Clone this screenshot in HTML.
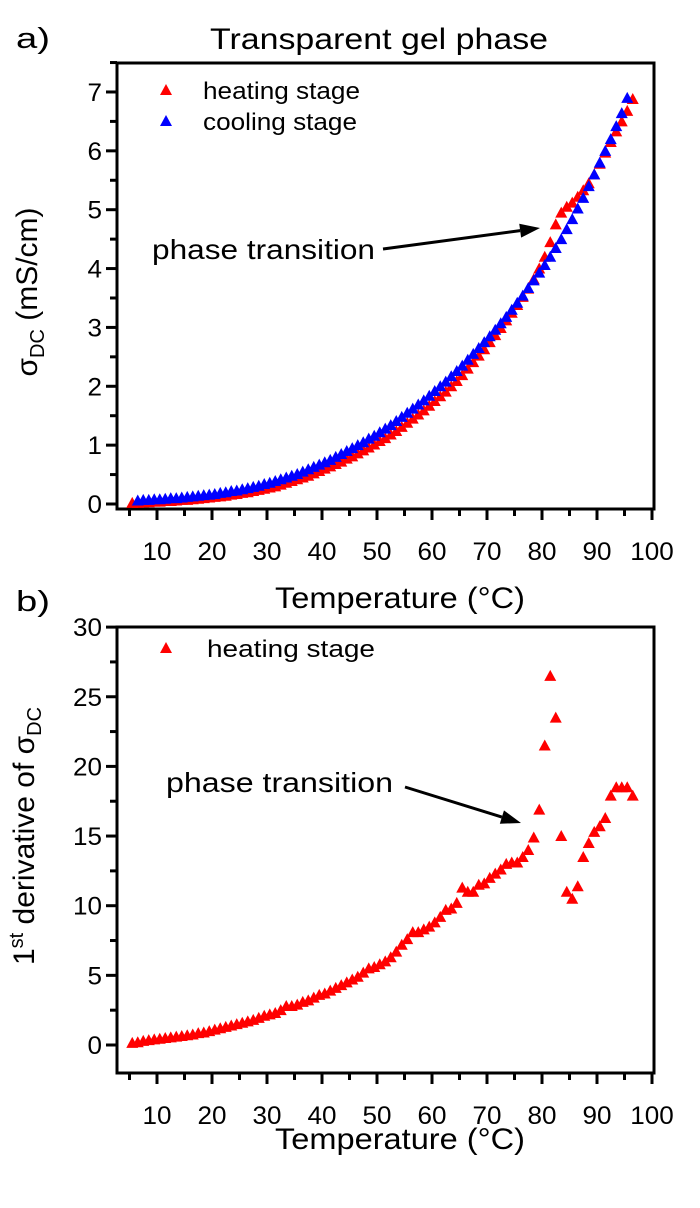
<!DOCTYPE html>
<html><head><meta charset="utf-8"><style>
body{margin:0;background:#fff;}
svg{display:block;font-family:"Liberation Sans",Arial,sans-serif;}
</style></head><body>
<svg id="fig" width="700" height="1208" viewBox="0 0 700 1208" xmlns="http://www.w3.org/2000/svg">
<g id="A"></g>
<g id="B"></g>
</svg>
<script>
const xTicks = [10,20,30,40,50,60,70,80,90,100];
const yTicksA = [0,1,2,3,4,5,6,7];
const yTicksB = [0,5,10,15,20,25,30];
const tempsHeat = [5.5,6.5,7.5,8.5,9.5,10.5,11.5,12.5,13.5,14.5,15.5,16.5,17.5,18.5,19.5,20.5,21.5,22.5,23.5,24.5,25.5,26.5,27.5,28.5,29.5,30.5,31.5,32.5,33.5,34.5,35.5,36.5,37.5,38.5,39.5,40.5,41.5,42.5,43.5,44.5,45.5,46.5,47.5,48.5,49.5,50.5,51.5,52.5,53.5,54.5,55.5,56.5,57.5,58.5,59.5,60.5,61.5,62.5,63.5,64.5,65.5,66.5,67.5,68.5,69.5,70.5,71.5,72.5,73.5,74.5,75.5,76.5,77.5,78.5,79.5,80.5,81.5,82.5,83.5,84.5,85.5,86.5,87.5,88.5,89.5,90.5,91.5,92.5,93.5,94.5,95.5,96.5];
const heatSigma = [0.02,0.02,0.03,0.03,0.04,0.04,0.05,0.05,0.06,0.07,0.07,0.08,0.09,0.1,0.11,0.12,0.13,0.14,0.16,0.17,0.19,0.2,0.22,0.24,0.26,0.28,0.3,0.33,0.36,0.39,0.42,0.45,0.48,0.52,0.56,0.6,0.64,0.68,0.72,0.77,0.81,0.86,0.91,0.96,1.01,1.07,1.12,1.18,1.24,1.31,1.38,1.45,1.52,1.59,1.67,1.75,1.83,1.91,2.0,2.09,2.19,2.3,2.41,2.52,2.63,2.75,2.87,2.99,3.12,3.25,3.38,3.52,3.66,3.82,4.0,4.2,4.45,4.75,4.95,5.05,5.12,5.22,5.33,5.45,5.6,5.78,5.97,6.15,6.33,6.5,6.68,6.88];
const tempsCool = [6.5,7.5,8.5,9.5,10.5,11.5,12.5,13.5,14.5,15.5,16.5,17.5,18.5,19.5,20.5,21.5,22.5,23.5,24.5,25.5,26.5,27.5,28.5,29.5,30.5,31.5,32.5,33.5,34.5,35.5,36.5,37.5,38.5,39.5,40.5,41.5,42.5,43.5,44.5,45.5,46.5,47.5,48.5,49.5,50.5,51.5,52.5,53.5,54.5,55.5,56.5,57.5,58.5,59.5,60.5,61.5,62.5,63.5,64.5,65.5,66.5,67.5,68.5,69.5,70.5,71.5,72.5,73.5,74.5,75.5,76.5,77.5,78.5,79.5,80.5,81.5,82.5,83.5,84.5,85.5,86.5,87.5,88.5,89.5,90.5,91.5,92.5,93.5,94.5,95.5,96.5];
const coolSigma = [0.06,0.07,0.07,0.08,0.08,0.09,0.1,0.1,0.11,0.12,0.13,0.14,0.15,0.16,0.17,0.19,0.2,0.22,0.23,0.25,0.27,0.29,0.31,0.34,0.36,0.39,0.42,0.45,0.48,0.51,0.55,0.59,0.63,0.67,0.71,0.75,0.8,0.85,0.9,0.95,1.0,1.05,1.11,1.16,1.22,1.28,1.34,1.41,1.48,1.55,1.62,1.69,1.76,1.84,1.92,2.0,2.08,2.17,2.26,2.35,2.45,2.55,2.65,2.75,2.85,2.96,3.07,3.18,3.3,3.42,3.54,3.67,3.8,3.93,4.06,4.2,4.35,4.5,4.67,4.84,5.02,5.2,5.4,5.6,5.8,6.0,6.2,6.42,6.64,6.9];
const heatDeriv = [0.15,0.2,0.3,0.35,0.4,0.45,0.5,0.55,0.6,0.65,0.7,0.75,0.85,0.9,1.0,1.1,1.2,1.3,1.4,1.5,1.6,1.7,1.8,1.95,2.1,2.2,2.3,2.5,2.8,2.8,2.9,3.1,3.2,3.4,3.6,3.7,3.9,4.1,4.3,4.5,4.7,4.9,5.2,5.5,5.6,5.8,6.0,6.3,6.7,7.2,7.6,8.1,8.1,8.3,8.5,8.8,9.2,9.7,9.8,10.2,11.3,11.0,11.0,11.5,11.6,12.0,12.3,12.6,13.0,13.1,13.1,13.5,14.0,14.9,16.9,21.5,26.5,23.5,15.0,11.0,10.5,11.4,13.5,14.5,15.3,15.7,16.3,17.9,18.5,18.5,18.5,17.9];

const NS='http://www.w3.org/2000/svg';
function mk(parent,tag,attrs,text){const e=document.createElementNS(NS,tag);for(const k in attrs)e.setAttribute(k,attrs[k]);if(text!==undefined)e.textContent=text;parent.appendChild(e);return e;}
const L=117,R=654;
function xs(t){return 102+t*5.5;}
function tri(g,x,y,col){
  const p=mk(g,'polygon',{points:`${x-6},${y+5} ${x+6},${y+5} ${x},${y-6}`,fill:col});
  
  
}
function panel(g,top,bot,y0px,ppu,yTicks,minorStep,ymin,ymax){
  const ys=v=>y0px-v*ppu;
  const fr=mk(g,'rect',{x:L,y:top,width:R-L,height:bot-top,fill:'none',stroke:'#000','stroke-width':3});
  
  for(let t=5;t<=100;t+=5){
    const major=t%10===0;
    const x=xs(t);
    const ln=mk(g,'line',{x1:x,y1:bot,x2:x,y2:bot+(major?11:7),stroke:'#000','stroke-width':3});
    
  }
  xTicks.forEach(t=>{
    const s=String(t);
    const tx=mk(g,'text',{x:xs(t),y:bot+51,'font-size':25,'text-anchor':'middle',textLength:s.length*14.5,lengthAdjust:'spacingAndGlyphs'},s);
    
  });
  for(let v=0;v<=ymax+1e-6;v+=minorStep){
    const major=yTicks.some(q=>Math.abs(q-v)<1e-6);
    const y=ys(v);
    const ln=mk(g,'line',{x1:L-(major?11:7),y1:y,x2:L,y2:y,stroke:'#000','stroke-width':3});
    
  }
  yTicks.forEach(v=>{
    const s=String(v);
    const tx=mk(g,'text',{x:L-15,y:ys(v)+9,'font-size':25,'text-anchor':'end',textLength:s.length*14.5,lengthAdjust:'spacingAndGlyphs'},s);
    
  });
  return ys;
}
const A=document.getElementById('A'),B=document.getElementById('B');
const ysA=panel(A,63,509,504,58.86,yTicksA,0.5,-0.085,7.5);
const ysB=panel(B,627,1073,1045,13.93,yTicksB,2.5,-2,30);
const gh=mk(A,'g',{});
const gc=mk(A,'g',{});
tempsHeat.forEach((t,i)=>tri(gh,xs(t),ysA(heatSigma[i]),'#ff0000'));
tempsCool.forEach((t,i)=>tri(gc,xs(t),ysA(coolSigma[i]),'#0000ff'));
const gd=mk(B,'g',{});
tempsHeat.forEach((t,i)=>tri(gd,xs(t),ysB(heatDeriv[i]),'#ff0000'));
</script>
<script>
const F=document.getElementById('fig');
function T(x,y,s,txt,name,extra){const e=document.createElementNS(NS,'text');e.setAttribute('x',x);e.setAttribute('y',y);e.setAttribute('font-size',s);if(extra)for(const k in extra)e.setAttribute(k,extra[k]);e.innerHTML=txt;


F.appendChild(e);return e;}
const fit=w=>({textLength:w,lengthAdjust:'spacingAndGlyphs'});
T(16,48,29,'a)','panel-a-label',fit(34));
T(210,49,30,'Transparent gel phase','chart-title',fit(338));
T(16,611,29,'b)','panel-b-label',fit(34));
T(275,608,30,'Temperature (°C)','x-axis-title-a',fit(250));
T(275,1149,30,'Temperature (°C)','x-axis-title-b',fit(250));
T(0,0,30,'σ<tspan font-size="20" dy="7">DC</tspan><tspan dy="-7"> (mS/cm)</tspan>','y-axis-title-a',{transform:'translate(37,292) rotate(-90)','text-anchor':'middle'});
T(0,0,30,'1<tspan font-size="20" dy="-11">st</tspan><tspan dy="11"> derivative of σ</tspan><tspan font-size="20" dy="7">DC</tspan>','y-axis-title-b',{transform:'translate(34,836) rotate(-90)','text-anchor':'middle'});
function ltri(x,y,c,name){const p=document.createElementNS(NS,'polygon');p.setAttribute('points',`${x-6},${y+5} ${x+6},${y+5} ${x},${y-6}`);p.setAttribute('fill',c);


F.appendChild(p);}
ltri(166,90,'#ff0000','legend-marker-heating');
T(203,99,24,'heating stage','legend-entry-heating',fit(157));
ltri(166,121,'#0000ff','legend-marker-cooling');
T(203,130,24,'cooling stage','legend-entry-cooling',fit(154));
ltri(166,648,'#ff0000','legend-marker-heating-b');
T(207,657,24,'heating stage','legend-entry-heating-b',fit(168));
T(152,259,28,'phase transition','annotation-a',fit(223));
T(166,792,28,'phase transition','annotation-b',fit(227));
function arrow(x1,y1,x2,y2,name){
  const g=document.createElementNS(NS,'g');
  
  
  const a=Math.atan2(y2-y1,x2-x1),hl=20,hw=7;
  const bx=x2-hl*Math.cos(a),by=y2-hl*Math.sin(a);
  const l=document.createElementNS(NS,'line');
  l.setAttribute('x1',x1);l.setAttribute('y1',y1);l.setAttribute('x2',bx);l.setAttribute('y2',by);l.setAttribute('stroke','#000');l.setAttribute('stroke-width',3);
  g.appendChild(l);
  const p=document.createElementNS(NS,'polygon');
  const px=-Math.sin(a)*hw,py=Math.cos(a)*hw;
  p.setAttribute('points',`${x2},${y2} ${bx+px},${by+py} ${bx-px},${by-py}`);
  g.appendChild(p);F.appendChild(g);
}
arrow(383,249,540,228,'arrow-a');
arrow(405,787,521,823,'arrow-b');
</script>
</body></html>
